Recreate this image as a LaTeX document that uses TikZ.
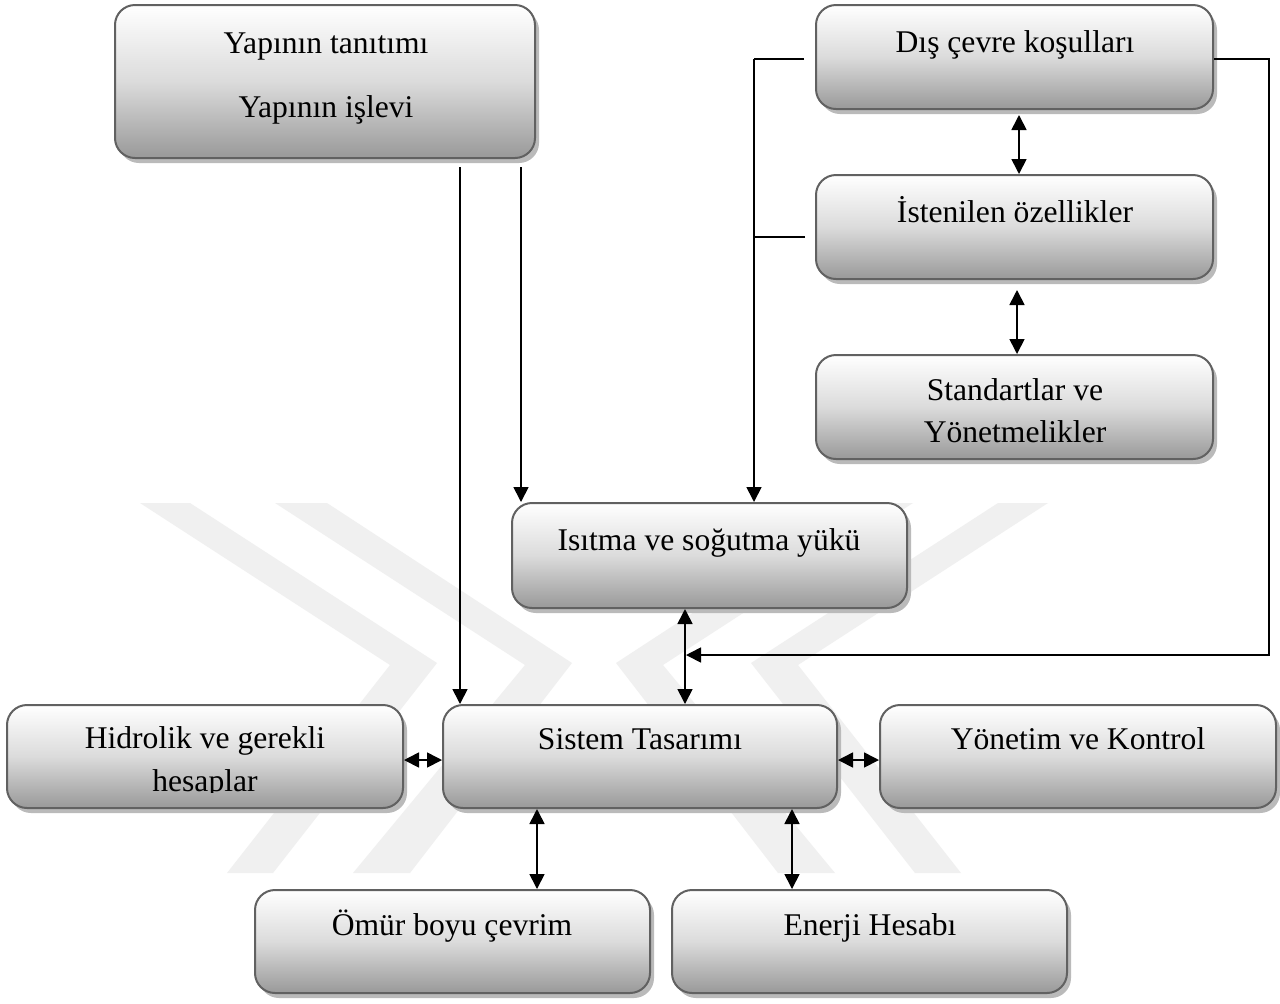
\documentclass[tikz,border=0pt]{standalone}
\usepackage{fontspec}
\setmainfont{Liberation Serif}
\usetikzlibrary{arrows.meta,shadows,fit,calc}
\begin{document}
\begin{tikzpicture}[x=0.5pt,y=-0.5pt,
  box/.style={draw=black!62, line width=1pt, rounded corners=10pt,
    top color=white, bottom color=black!40, middle color=black!14,
    inner sep=0pt,
    drop shadow={shadow xshift=2pt, shadow yshift=-2.5pt, fill=black!27, opacity=1}},
  lbl/.style={font=\fontsize{15.8pt}{19pt}\selectfont, inner sep=0pt, anchor=base},
  wm/.style={fill=black!6, draw=none},
  arr/.style={line width=0.85pt, -{Triangle[length=7.5pt,width=7.5pt]}},
  darr/.style={line width=0.85pt, {Triangle[length=7.5pt,width=7.5pt]}-{Triangle[length=7.5pt,width=7.5pt]}},
  conn/.style={line width=0.85pt}]
\useasboundingbox (0,0) rectangle (1280,1003);
\fill[white] (0,0) rectangle (1280,1003);

% faint watermark
\fill[wm] (140,503) -- (190,503) -- (437,663) -- (273,873) -- (227,873) -- (390,665) -- cycle;
\fill[wm] (275,503) -- (327,503) -- (572,663) -- (410,873) -- (353,873) -- (525,665) -- cycle;
\fill[wm] (1048,503) -- (998,503) -- (751,663) -- (915,873) -- (961,873) -- (798,665) -- cycle;
\fill[wm] (913,503) -- (861,503) -- (616,663) -- (778,873) -- (835,873) -- (663,665) -- cycle;

% boxes
\node[box, fit={(115,5)(535,158)}] (yapi) {};
\node[box, fit={(816,5)(1213,109)}] (dis) {};
\node[box, fit={(816,175)(1213,279)}] (ist) {};
\node[box, fit={(816,355)(1213,459)}] (std) {};
\node[box, fit={(512,503)(907,608)}] (isi) {};
\node[box, fit={(443,705)(837,808)}] (sys) {};
\node[box, fit={(7,705)(403,808)}] (hid) {};
\node[box, fit={(880,705)(1276,808)}] (yon) {};
\node[box, fit={(255,890)(650,993)}] (omr) {};
\node[box, fit={(672,890)(1067,993)}] (enj) {};

% texts
\node[lbl] (t1a) at (326,53) {Yapının tanıtımı};
\node[lbl] (t1b) at (326,117) {Yapının işlevi};
\node[lbl] (t2) at (1015,52) {Dış çevre koşulları};
\node[lbl] (t3) at (1015,222) {İstenilen özellikler};
\node[lbl] (t4a) at (1015,400) {Standartlar ve};
\node[lbl] (t4b) at (1015,442) {Yönetmelikler};
\node[lbl] (t5) at (709,550) {Isıtma ve soğutma yükü};
\node[lbl] (t6) at (640,749) {Sistem Tasarımı};
\node[lbl] (t7a) at (205,748) {Hidrolik ve gerekli};
\begin{scope}
  \clip (0,700) rectangle (420,792);
  \node[lbl] (t7b) at (205,791) {hesaplar};
\end{scope}
\node[lbl] (t8) at (1078,749) {Yönetim ve Kontrol};
\node[lbl] (t9) at (452,935) {Ömür boyu çevrim};
\node[lbl] (t10) at (870,935) {Enerji Hesabı};

% connector helper coordinates
\coordinate (p1) at (460,167);
\coordinate (p2) at (521,167);
\coordinate (lb) at (754,59);
\coordinate (lm) at (805,237);
\coordinate (rr) at (1269,655);
\coordinate (tip) at (686,655);
\coordinate (vx) at (685,0);
\coordinate (rx1) at (1019,0);
\coordinate (rx2) at (1017,0);
\coordinate (hy) at (0,760);
\coordinate (bx1) at (537,0);
\coordinate (bx2) at (792,0);

% connectors
\draw[arr] (p1) -- (p1 |- sys.north);
\draw[arr] (p2) -- (p2 |- isi.north);
\draw[conn] ([xshift=-5.5pt,yshift=-1pt]dis.west) -- (lb);
\draw[arr] (lb) -- (lb |- isi.north);
\draw[conn] (lm) -- (lm -| lb);
\draw[arr] ([yshift=-1pt]dis.east) -| (rr) -- (tip);
\draw[darr] ([yshift=-2.5pt]rx1 |- dis.south) -- (rx1 |- ist.north);
\draw[darr] ([yshift=-5pt]rx2 |- ist.south) -- (rx2 |- std.north);
\draw[darr] (vx |- isi.south) -- (vx |- sys.north);
\draw[darr] (hy -| hid.east) -- (hy -| sys.west);
\draw[darr] (hy -| sys.east) -- (hy -| yon.west);
\draw[darr] (bx1 |- sys.south) -- (bx1 |- omr.north);
\draw[darr] (bx2 |- sys.south) -- (bx2 |- enj.north);
\end{tikzpicture}
\end{document}
